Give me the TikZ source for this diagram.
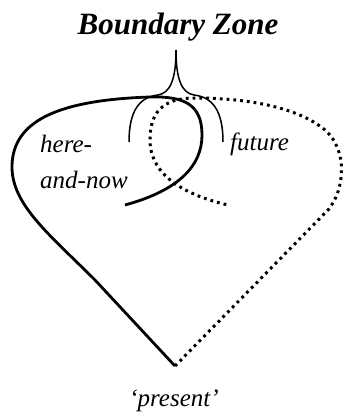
\documentclass[tikz,border=0pt]{standalone}
\usepackage{fontspec}
\setmainfont{Liberation Serif}
\usepackage{tikz}
\usetikzlibrary{positioning}

\begin{document}
\begin{tikzpicture}[x=1pt, y=-1pt,
  lbl/.style={inner sep=0pt, font=\fontsize{25}{36}\selectfont\itshape},
  nowline/.style={line width=2.8pt, line join=round},
  futline/.style={line width=3pt, dash pattern=on 2.8pt off 4pt},
  bracearm/.style={line width=1.5pt}]
\useasboundingbox (0,0) rectangle (345,412);
\coordinate (present) at (175,366);
\coordinate (tip) at (176,50);
\node[inner sep=0pt, anchor=base, font=\fontsize{31}{36}\selectfont\bfseries\itshape] (zone) at (178,35) {Boundary Zone};
\node[lbl, anchor=base west, align=left] (herenow) at (40,188) {here-\\and-now};
\node[lbl, anchor=base west] (future) at (230,150) {future};
\node[lbl, anchor=base] (presentlbl) at (174,406) {`present'};
% future loop
\draw[futline] (present) -- (328,210) .. controls (345,190) and (348,150) .. (325,130)
  .. controls (295,105) and (240,98) .. (195,98) .. controls (160,98) and (150,115) .. (150,140)
  .. controls (150,168) and (172,192) .. (228,205);
% here-and-now loop
\draw[nowline] (present) -- (95,280) .. controls (50,235) and (12,205) .. (12,167)
  .. controls (12,120) and (60,100) .. (150,97) .. controls (185,96) and (202,105) .. (202,135)
  .. controls (202,165) and (180,190) .. (125,205);
% brace
\draw[bracearm] (129,142) .. controls (129,110) and (140,97) .. (158,95) .. controls (170,93) and (176,80) .. (tip);
\draw[bracearm] (223,142) .. controls (223,110) and (212,97) .. (194,95) .. controls (182,93) and (176,80) .. (tip);
\end{tikzpicture}
\end{document}
